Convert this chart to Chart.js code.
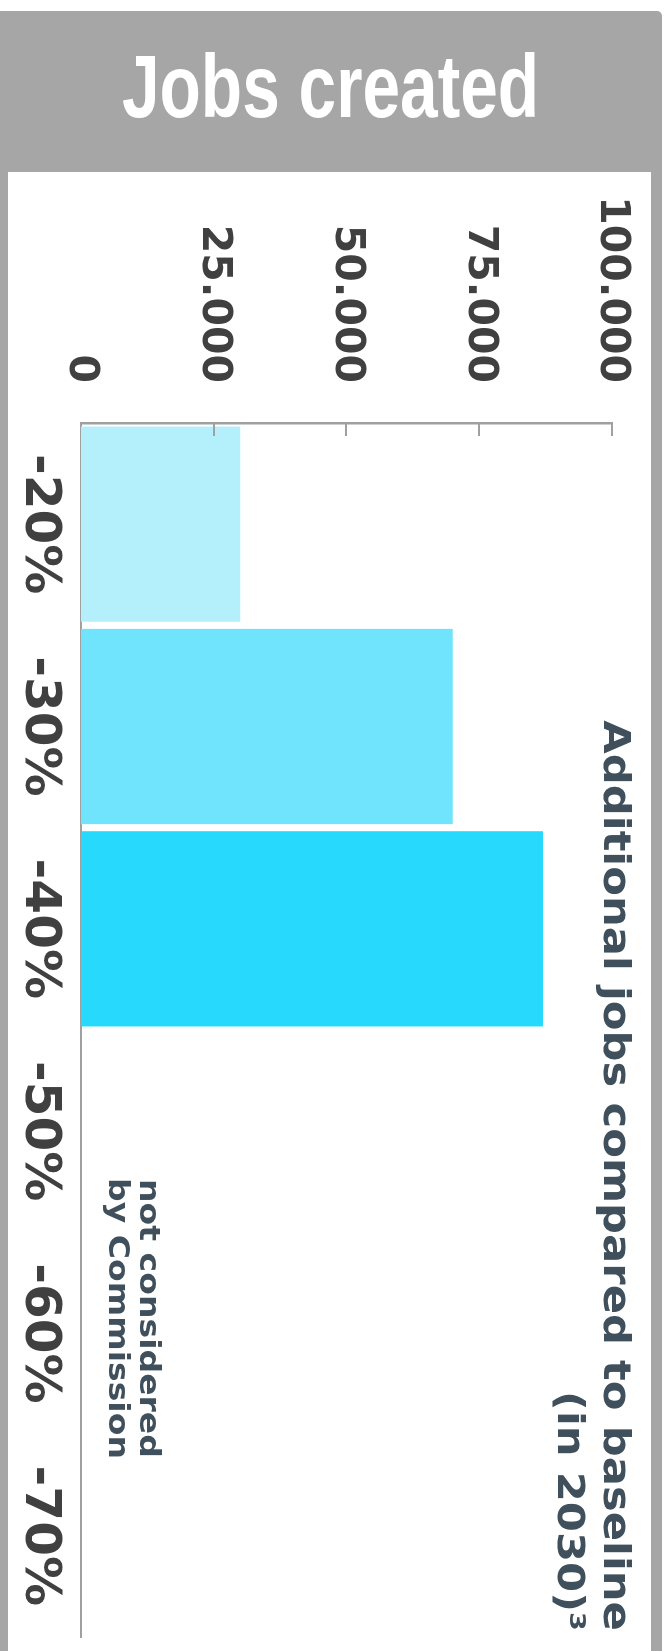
<!DOCTYPE html>
<html>
<head>
<meta charset="utf-8">
<title>Jobs created</title>
<script src="https://cdn.jsdelivr.net/npm/chart.js@4.4.1/dist/chart.umd.min.js"></script>
<style>
  html, body { margin: 0; padding: 0; width: 668px; height: 1651px; overflow: hidden; background: #fff; }
  .frame { position: absolute; left: 0; top: 11px; width: 662px; height: 1660px; background: #a6a6a6; border-radius: 0 5px 0 0; }
  .heading { position: absolute; left: 0; top: 42px; width: 662px; text-align: center;
             font: bold 89px/89px "Liberation Sans", Arial, sans-serif; color: #fff; white-space: nowrap; }
  .heading span { display: inline-block; transform: scaleX(0.76); }
  .panel { position: absolute; left: 8px; top: 172px; width: 643px; height: 1479px; background: #fff; overflow: hidden; }
  /* the column chart is laid out normally, then turned a quarter clockwise */
  #chart { position: absolute; left: 0; top: 0; transform-origin: 0 0; transform: translate(643px, 0) rotate(90deg); }
</style>
</head>
<body>
<div class="frame"></div>
<div class="heading"><span>Jobs created</span></div>
<div class="panel"><canvas id="chart" width="1479" height="643"></canvas></div>
<script>
const categories = ['-20%', '-30%', '-40%', '-50%', '-60%', '-70%']
const additionalJobs = [30000, 70000, 87000, null, null, null]
const barColors = ['#b4f0fb', '#70e4fc', '#27d9fd', '#27d9fd', '#27d9fd', '#27d9fd']
const valueTicks = [0, 25000, 50000, 75000, 100000]
const titleLines = ['Additional jobs compared to baseline', '(in 2030)³']
const noteLines = ['not considered', 'by Commission']
const noteCategory = '-60%'

const TEXT = '#3f505c'
const AXIS = '#a0a0a0'

// 25000 -> "25.000"
const formatThousands = (v) => String(v).replace(/\B(?=(\d{3})+(?!\d))/g, '.')

// small tick marks pointing into the plot from the value axis
const innerTicks = {
  id: 'innerTicks',
  afterDatasetsDraw(chart) {
    const { ctx, chartArea, scales: { y } } = chart
    ctx.save()
    ctx.strokeStyle = AXIS
    ctx.lineWidth = 2
    y.ticks.forEach((t) => {
      if (t.value === 0) return
      const py = Math.round(y.getPixelForValue(t.value))
      ctx.beginPath()
      ctx.moveTo(chartArea.left, py)
      ctx.lineTo(chartArea.left + 13, py)
      ctx.stroke()
    })
    ctx.restore()
  },
}

// right aligned heading and the note over the empty columns
const sideText = {
  id: 'sideText',
  afterDraw(chart) {
    const { ctx, chartArea, scales: { x } } = chart
    const wide = (text, px, base, sx) => {
      ctx.save()
      ctx.translate(px, base)
      ctx.scale(sx, 1)
      ctx.fillText(text, 0, 0)
      ctx.restore()
    }
    ctx.save()
    ctx.fillStyle = TEXT
    ctx.textBaseline = 'alphabetic'

    ctx.textAlign = 'right'
    ctx.font = 'bold 38px "DejaVu Sans"'
    wide(titleLines[0], chartArea.right - 6, 47, 1.14)
    wide(titleLines[1], chartArea.right - 6, 93, 1.14)

    ctx.textAlign = 'center'
    ctx.font = 'bold 29px "DejaVu Sans"'
    const cx = x.getPixelForValue(categories.indexOf(noteCategory)) - 15
    wide(noteLines[0], cx, 511, 1.14)
    wide(noteLines[1], cx, 542, 1.14)
    ctx.restore()
  },
}

new Chart(document.getElementById('chart'), {
  type: 'bar',
  data: {
    labels: categories,
    datasets: [
      {
        label: 'Additional jobs',
        data: additionalJobs,
        backgroundColor: barColors,
        borderWidth: 0,
        barPercentage: 0.965,
        categoryPercentage: 1,
      },
    ],
  },
  options: {
    responsive: false,
    animation: false,
    events: [],
    layout: { padding: { top: 39, right: 14, left: 0, bottom: 0 } },
    plugins: {
      legend: { display: false },
      title: { display: false },
      tooltip: { enabled: false },
    },
    scales: {
      x: {
        grid: { display: false, drawTicks: false },
        border: { display: true, color: AXIS, width: 2 },
        ticks: {
          color: '#404040',
          padding: 12,
          font: { family: 'DejaVu Sans', size: 50, weight: 'bold' },
        },
        afterFit: (s) => { s.height = 73 },
      },
      y: {
        min: 0,
        max: 100000,
        afterBuildTicks: (s) => { s.ticks = valueTicks.map((value) => ({ value })) },
        grid: { display: false, drawTicks: false },
        border: { display: true, color: AXIS, width: 2.5 },
        ticks: {
          color: '#404040',
          padding: 40,
          font: { family: 'DejaVu Sans', size: 41, weight: 'bold' },
          callback: (v) => formatThousands(v),
        },
        afterFit: (s) => {
          s.width = 251
          // the end labels may hang past the plot edges
          s.paddingTop = 0
          s.paddingBottom = 0
        },
      },
    },
  },
  plugins: [innerTicks, sideText],
})
</script>
</body>
</html>
